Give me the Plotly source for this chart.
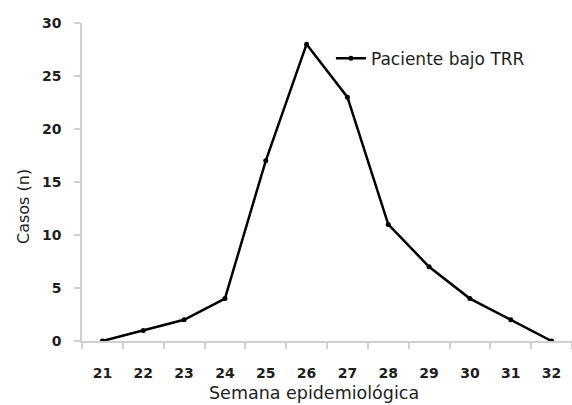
import plotly.graph_objects as go

weeks = [21, 22, 23, 24, 25, 26, 27, 28, 29, 30, 31, 32]
cases = [0, 1, 2, 4, 17, 28, 23, 11, 7, 4, 2, 0]
series_name = "Paciente bajo TRR"
y_ticks = [0, 5, 10, 15, 20, 25, 30]
x_title = "Semana epidemiológica"
y_title = "Casos (n)"

FONT = "DejaVu Sans, sans-serif"
axis_col = "#d0d0d0"
txt_col = "#1e1e1e"

fig = go.Figure()
fig.add_trace(go.Scatter(
    x=weeks, y=cases, mode="lines+markers", name=series_name,
    line=dict(color="black", width=2.5),
    marker=dict(color="black", size=5),
))

fig.update_layout(
    width=572, height=405,
    margin=dict(l=82, r=0, t=23, b=64),
    paper_bgcolor="white", plot_bgcolor="white",
    font=dict(family=FONT, color=txt_col),
    showlegend=True,
    legend=dict(x=0.508, y=0.888, xanchor="left", yanchor="middle",
                bgcolor="rgba(0,0,0,0)", font=dict(size=17, color=txt_col, family=FONT),
                itemwidth=30),
    xaxis=dict(
        range=[20.5, 32.5], tickvals=weeks, ticktext=[str(w) for w in weeks],
        ticks="", showgrid=False, zeroline=False, automargin=False,
        showline=True, linecolor=axis_col, linewidth=1.5,
        tickfont=dict(size=14, color=txt_col, family=FONT, weight="bold"),
        ticklabelstandoff=18,
        minor=dict(tickvals=[w + 0.5 for w in [20] + weeks], ticks="outside",
                   ticklen=6, tickcolor=axis_col, tickwidth=1.5, showgrid=False),
    ),
    yaxis=dict(
        range=[0, 30], tickvals=y_ticks, showgrid=False, zeroline=False, automargin=False,
        showline=True, linecolor=axis_col, linewidth=1.5,
        ticks="outside", ticklen=6, tickcolor=axis_col, tickwidth=1.5,
        tickfont=dict(size=14, color=txt_col, family=FONT, weight="bold"),
        ticklabelstandoff=10,
    ),
    annotations=[
        dict(text=x_title, xref="paper", yref="paper", x=(314 - 82) / 490, y=-(393 - 341) / 318,
             xanchor="center", yanchor="middle", showarrow=False,
             font=dict(size=17.5, color=txt_col, family=FONT)),
        dict(text=y_title, xref="paper", yref="paper", x=-(82 - 23) / 490, y=(341 - 207) / 318,
             xanchor="center", yanchor="middle", showarrow=False, textangle=-90,
             font=dict(size=16, color=txt_col, family=FONT)),
    ],
)
fig.write_html("out.html", config={"displayModeBar": False},
               post_script="document.body.style.margin='0';document.body.style.overflow='hidden';")
